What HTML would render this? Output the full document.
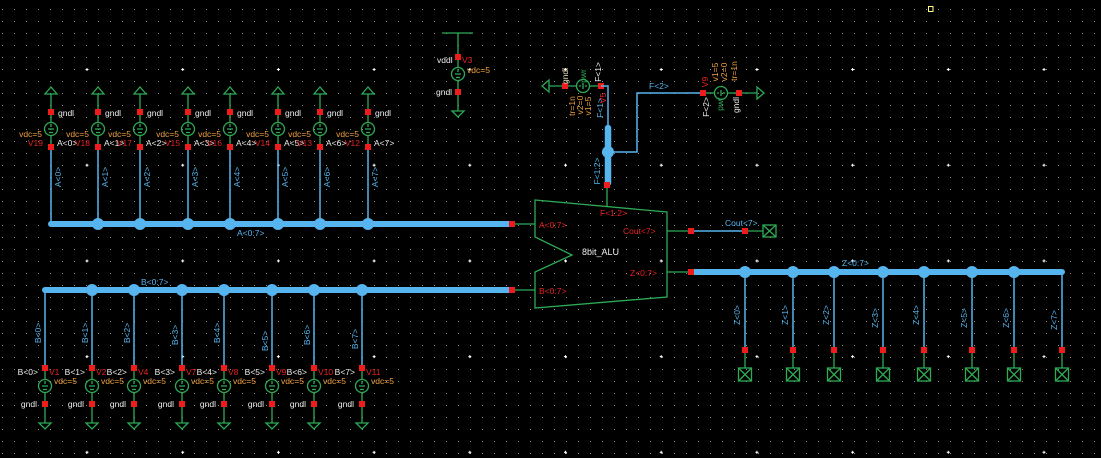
<!DOCTYPE html>
<html><head><meta charset="utf-8"><style>
html,body{margin:0;padding:0;background:#000;}
svg{display:block;}
text{font-family:"Liberation Sans",sans-serif;font-size:8.5px;}
.g{stroke:#2eaa55;fill:none;stroke-width:1.3}
.b{stroke:#56b4ee;stroke-width:1.5;fill:none}
.bus{stroke:#56b4ee;stroke-width:6;stroke-linecap:round;fill:none}
.r{fill:#ee1c1c}
.d{fill:#56b4ee}
.tw{fill:#eeeeee}.to{fill:#f0a040}.tr{fill:#e82020}.tb{fill:#56b4ee}.tg{fill:#2eaa55}
</style></head><body>
<svg width="1101" height="458" viewBox="0 0 1101 458" xmlns="http://www.w3.org/2000/svg">
<defs>
<pattern id="gd" x="2" y="9" width="12" height="12" patternUnits="userSpaceOnUse"><rect width="1" height="1" fill="#8c8c8c" shape-rendering="crispEdges"/></pattern>
<pattern id="gm" x="39.15" y="21.65" width="95.7" height="95.7" patternUnits="userSpaceOnUse"><path d="M46.35 47.85h3M47.85 46.35v3" stroke="#fff" stroke-width="1"/></pattern>
<g id="sa">
<polygon class="g" points="0,87 -6,94 6,94"/>
<line class="g" x1="0" y1="94" x2="0" y2="122.5"/>
<circle class="g" cx="0" cy="129" r="6.5"/>
<path class="g" d="M-3 129h6M0 124v3M-2 132.5h4"/>
<line class="g" x1="0" y1="135.5" x2="0" y2="147"/>
<line class="b" x1="0" y1="147" x2="0" y2="224"/>
<rect class="r" x="-3" y="109" width="6" height="6"/>
<rect class="r" x="-3" y="144" width="6" height="6"/>
</g>
<g id="sb">
<line class="b" x1="0" y1="290" x2="0" y2="368"/>
<line class="g" x1="0" y1="368" x2="0" y2="379.5"/>
<circle class="g" cx="0" cy="386" r="6.5"/>
<path class="g" d="M-3 386h6M0 381v3M-2 389.5h4"/>
<line class="g" x1="0" y1="392.5" x2="0" y2="423"/>
<polygon class="g" points="-6,423 6,423 0,429"/>
<rect class="r" x="-3" y="365" width="6" height="6"/>
<rect class="r" x="-3" y="401" width="6" height="6"/>
</g>
<g id="sz">
<line class="b" x1="0" y1="272" x2="0" y2="350"/>
<line class="g" x1="0" y1="350" x2="0" y2="368"/>
<rect class="g" x="-6.5" y="368" width="13" height="13"/>
<path class="g" d="M-6.5 368l13 13M6.5 368l-13 13"/>
<rect class="r" x="-3" y="347" width="6" height="6"/>
</g>
</defs>
<rect width="1101" height="458" fill="#000"/>
<rect width="1101" height="458" fill="url(#gd)"/>
<rect width="1101" height="458" fill="url(#gm)"/>
<rect x="928.5" y="6.5" width="4.5" height="5" fill="none" stroke="#ffff80" stroke-width="1"/>

<!-- A section -->
<line class="bus" x1="51" y1="224" x2="512" y2="224"/>
<use href="#sa" x="51"/><use href="#sa" x="98"/><use href="#sa" x="140"/><use href="#sa" x="188"/>
<use href="#sa" x="230"/><use href="#sa" x="278"/><use href="#sa" x="320"/><use href="#sa" x="368"/>
<circle class="d" cx="98" cy="224" r="6"/><circle class="d" cx="140" cy="224" r="6"/><circle class="d" cx="188" cy="224" r="6"/><circle class="d" cx="230" cy="224" r="6"/>
<circle class="d" cx="278" cy="224" r="6"/><circle class="d" cx="320" cy="224" r="6"/><circle class="d" cx="368" cy="224" r="6"/>
<g class="tw">
<text x="58" y="116">gndl</text><text x="105" y="116">gndl</text><text x="147" y="116">gndl</text><text x="195" y="116">gndl</text>
<text x="237" y="116">gndl</text><text x="285" y="116">gndl</text><text x="327" y="116">gndl</text><text x="375" y="116">gndl</text>
<text x="57" y="146">A&lt;0&gt;</text><text x="104" y="146">A&lt;1&gt;</text><text x="146" y="146">A&lt;2&gt;</text><text x="194" y="146">A&lt;3&gt;</text>
<text x="236" y="146">A&lt;4&gt;</text><text x="284" y="146">A&lt;5&gt;</text><text x="326" y="146">A&lt;6&gt;</text><text x="374" y="146">A&lt;7&gt;</text>
</g>
<g class="to" text-anchor="end">
<text x="42" y="137">vdc=5</text><text x="89" y="137">vdc=5</text><text x="131" y="137">vdc=5</text><text x="179" y="137">vdc=5</text>
<text x="221" y="137">vdc=5</text><text x="269" y="137">vdc=5</text><text x="311" y="137">vdc=5</text><text x="359" y="137">vdc=5</text>
</g>
<g class="tr" text-anchor="end">
<text x="43" y="146">V19</text><text x="90" y="146">V18</text><text x="132" y="146">V17</text><text x="180" y="146">V15</text>
<text x="222" y="146">V16</text><text x="270" y="146">V14</text><text x="312" y="146">V13</text><text x="360" y="146">V12</text>
</g>
<g class="tb" text-anchor="middle">
<text transform="translate(58,177) rotate(-90)" dy="3">A&lt;0&gt;</text>
<text transform="translate(105,177) rotate(-90)" dy="3">A&lt;1&gt;</text>
<text transform="translate(147,177) rotate(-90)" dy="3">A&lt;2&gt;</text>
<text transform="translate(195,177) rotate(-90)" dy="3">A&lt;3&gt;</text>
<text transform="translate(237,177) rotate(-90)" dy="3">A&lt;4&gt;</text>
<text transform="translate(285,177) rotate(-90)" dy="3">A&lt;5&gt;</text>
<text transform="translate(327,177) rotate(-90)" dy="3">A&lt;6&gt;</text>
<text transform="translate(375,177) rotate(-90)" dy="3">A&lt;7&gt;</text>
</g>
<text class="tb" x="237" y="236">A&lt;0:7&gt;</text>

<!-- B section -->
<line class="bus" x1="45" y1="290" x2="512" y2="290"/>
<use href="#sb" x="45"/><use href="#sb" x="92"/><use href="#sb" x="134"/><use href="#sb" x="182"/>
<use href="#sb" x="224"/><use href="#sb" x="272"/><use href="#sb" x="314"/><use href="#sb" x="362"/>
<circle class="d" cx="92" cy="290" r="6"/><circle class="d" cx="134" cy="290" r="6"/><circle class="d" cx="182" cy="290" r="6"/><circle class="d" cx="224" cy="290" r="6"/>
<circle class="d" cx="272" cy="290" r="6"/><circle class="d" cx="314" cy="290" r="6"/><circle class="d" cx="362" cy="290" r="6"/>
<text class="tb" x="141" y="285">B&lt;0:7&gt;</text>
<g class="tw" text-anchor="end">
<text x="38" y="375">B&lt;0&gt;</text><text x="85" y="375">B&lt;1&gt;</text><text x="127" y="375">B&lt;2&gt;</text><text x="175" y="375">B&lt;3&gt;</text>
<text x="217" y="375">B&lt;4&gt;</text><text x="265" y="375">B&lt;5&gt;</text><text x="307" y="375">B&lt;6&gt;</text><text x="355" y="375">B&lt;7&gt;</text>
<text x="37" y="407">gndl</text><text x="84" y="407">gndl</text><text x="126" y="407">gndl</text><text x="174" y="407">gndl</text>
<text x="216" y="407">gndl</text><text x="264" y="407">gndl</text><text x="306" y="407">gndl</text><text x="354" y="407">gndl</text>
</g>
<g class="tr">
<text x="49" y="375">V1</text><text x="96" y="375">V2</text><text x="138" y="375">V4</text><text x="186" y="375">V7</text>
<text x="228" y="375">V8</text><text x="276" y="375">V9</text><text x="318" y="375">V10</text><text x="366" y="375">V11</text>
</g>
<g class="to">
<text x="54" y="384">vdc=5</text><text x="101" y="384">vdc=5</text><text x="143" y="384">vdc=5</text><text x="191" y="384">vdc=5</text>
<text x="233" y="384">vdc=5</text><text x="281" y="384">vdc=5</text><text x="323" y="384">vdc=5</text><text x="371" y="384">vdc=5</text>
</g>
<g class="tb" text-anchor="middle">
<text transform="translate(38,333) rotate(-90)" dy="3">B&lt;0&gt;</text>
<text transform="translate(85,333) rotate(-90)" dy="3">B&lt;1&gt;</text>
<text transform="translate(127,333) rotate(-90)" dy="3">B&lt;2&gt;</text>
<text transform="translate(175,335) rotate(-90)" dy="3">B&lt;3&gt;</text>
<text transform="translate(217,333) rotate(-90)" dy="3">B&lt;4&gt;</text>
<text transform="translate(265,341) rotate(-90)" dy="3">B&lt;5&gt;</text>
<text transform="translate(307,335) rotate(-90)" dy="3">B&lt;6&gt;</text>
<text transform="translate(355,339) rotate(-90)" dy="3">B&lt;7&gt;</text>
</g>

<!-- ALU -->
<polygon class="g" points="535,200 667,212 667,297 535,308 535,272 572,255 535,237"/>
<line class="g" x1="512" y1="224" x2="535" y2="224"/>
<line class="g" x1="512" y1="290" x2="535" y2="290"/>
<line class="g" x1="607" y1="185" x2="607" y2="206.5"/>
<line class="g" x1="667" y1="231" x2="691" y2="231"/>
<line class="g" x1="667" y1="272" x2="691" y2="272"/>
<line class="b" x1="691" y1="231" x2="745" y2="231"/>
<line class="g" x1="745" y1="231" x2="763" y2="231"/>
<rect class="g" x="763" y="225" width="13" height="12"/>
<path class="g" d="M763 225l13 12M776 225l-13 12"/>
<rect class="r" x="509" y="221" width="6" height="6"/>
<rect class="r" x="509" y="287" width="6" height="6"/>
<rect class="r" x="604" y="182" width="6" height="6"/>
<rect class="r" x="688" y="228" width="6" height="6"/>
<rect class="r" x="742" y="228" width="6" height="6"/>
<g class="tr">
<text x="539" y="228">A&lt;0:7&gt;</text>
<text x="539" y="294">B&lt;0:7&gt;</text>
<text x="600" y="216">F&lt;1:2&gt;</text>
<text x="623" y="234">Cout&lt;7&gt;</text>
<text x="630" y="276">Z&lt;0:7&gt;</text>
</g>
<text class="tw" x="582" y="255" style="font-size:9px">8bit_ALU</text>
<text class="tb" x="725" y="226">Cout&lt;7&gt;</text>

<!-- Z section -->
<line class="bus" x1="691" y1="272" x2="1062" y2="272"/>
<use href="#sz" x="745"/><use href="#sz" x="793"/><use href="#sz" x="834"/><use href="#sz" x="883"/>
<use href="#sz" x="924"/><use href="#sz" x="972"/><use href="#sz" x="1014"/><use href="#sz" x="1062"/>
<circle class="d" cx="745" cy="272" r="6"/><circle class="d" cx="793" cy="272" r="6"/><circle class="d" cx="834" cy="272" r="6"/><circle class="d" cx="883" cy="272" r="6"/>
<circle class="d" cx="924" cy="272" r="6"/><circle class="d" cx="972" cy="272" r="6"/><circle class="d" cx="1014" cy="272" r="6"/>
<rect class="r" x="688" y="269" width="6" height="6"/>
<text class="tb" x="842" y="266">Z&lt;0:7&gt;</text>
<g class="tb" text-anchor="middle">
<text transform="translate(737,315) rotate(-90)" dy="3">Z&lt;0&gt;</text>
<text transform="translate(785,315) rotate(-90)" dy="3">Z&lt;1&gt;</text>
<text transform="translate(826,315) rotate(-90)" dy="3">Z&lt;2&gt;</text>
<text transform="translate(875,318) rotate(-90)" dy="3">Z&lt;3&gt;</text>
<text transform="translate(916,315) rotate(-90)" dy="3">Z&lt;4&gt;</text>
<text transform="translate(964,318) rotate(-90)" dy="3">Z&lt;5&gt;</text>
<text transform="translate(1006,318) rotate(-90)" dy="3">Z&lt;6&gt;</text>
<text transform="translate(1054,320) rotate(-90)" dy="3">Z&lt;7&gt;</text>
</g>

<!-- vdd source -->
<line class="g" x1="442" y1="33" x2="473" y2="33"/>
<line class="g" x1="458" y1="33" x2="458" y2="67.5"/>
<circle class="g" cx="458" cy="74" r="6.5"/>
<path class="g" d="M455 74h6M458 69v3M456 77.5h4"/>
<line class="g" x1="458" y1="80.5" x2="458" y2="111"/>
<polygon class="g" points="452,111 464,111 458,117"/>
<rect class="r" x="455" y="54" width="6" height="6"/>
<rect class="r" x="455" y="89" width="6" height="6"/>
<text class="tw" x="437" y="63">vddl</text>
<text class="tr" x="462" y="63">V3</text>
<text class="to" x="467" y="73">vdc=5</text>
<text class="tw" x="436" y="95">gndl</text>

<!-- F<1> source -->
<polygon class="g" points="542,86 549,80 549,92"/>
<line class="g" x1="549" y1="86" x2="576.5" y2="86"/>
<circle class="g" cx="583" cy="86" r="6.5"/>
<path class="g" d="M583 83v6M579 86h2M585 86h2"/>
<line class="g" x1="589.5" y1="86" x2="601" y2="86"/>
<rect class="r" x="562" y="83" width="6" height="6"/>
<rect class="r" x="598" y="83" width="6" height="6"/>
<polyline class="b" points="601,86 608,86 608,128"/>
<line class="bus" x1="608" y1="128" x2="608" y2="183" style="stroke-width:6.5"/>
<circle class="d" cx="608" cy="152" r="6"/>
<polyline class="b" points="608,152 637,152 637,93 703,93"/>
<rect class="r" x="604" y="182" width="6" height="6"/>
<text class="tb" x="649" y="89">F&lt;2&gt;</text>
<g text-anchor="middle">
<text class="tb" transform="translate(597,171) rotate(-90)" dy="3">F&lt;1:2&gt;</text>
<text class="tw" transform="translate(565,76) rotate(-90)" dy="3" style="fill:#f0e0c0">gndl</text>
<text class="tg" transform="translate(583,76) rotate(-90)" dy="3">pwr</text>
<text class="tw" transform="translate(598,72) rotate(-90)" dy="3">F&lt;1&gt;</text>
<text class="to" transform="translate(572,106) rotate(-90)" dy="3">tr=1n</text>
<text class="to" transform="translate(580,105) rotate(-90)" dy="3">v2=0</text>
<text class="to" transform="translate(588,106) rotate(-90)" dy="3">v1=5</text>
<text class="tb" transform="translate(600,108) rotate(-90)" dy="3">F&lt;1&gt;</text>
<text class="tr" transform="translate(603,98) rotate(-90)" dy="3">V5</text>
</g>

<!-- F<2> source -->
<line class="g" x1="703" y1="93" x2="714.5" y2="93"/>
<circle class="g" cx="721" cy="93" r="6.5"/>
<path class="g" d="M721 90v6M717 93h2M723 93h2"/>
<line class="g" x1="727.5" y1="93" x2="757" y2="93"/>
<polygon class="g" points="757,87 757,99 764,93"/>
<rect class="r" x="700" y="90" width="6" height="6"/>
<rect class="r" x="736" y="90" width="6" height="6"/>
<g text-anchor="middle">
<text class="tr" transform="translate(705,82) rotate(-90)" dy="3">V9</text>
<text class="to" transform="translate(715,72) rotate(-90)" dy="3">v1=5</text>
<text class="to" transform="translate(724,72) rotate(-90)" dy="3">v2=0</text>
<text class="to" transform="translate(734,71) rotate(-90)" dy="3">tr=1n</text>
<text class="tw" transform="translate(706,107) rotate(-90)" dy="3">F&lt;2&gt;</text>
<text class="tg" transform="translate(720,104) rotate(-90)" dy="3">pwr</text>
<text class="tw" transform="translate(736,105) rotate(-90)" dy="3">gndl</text>
</g>
</svg>
</body></html>
